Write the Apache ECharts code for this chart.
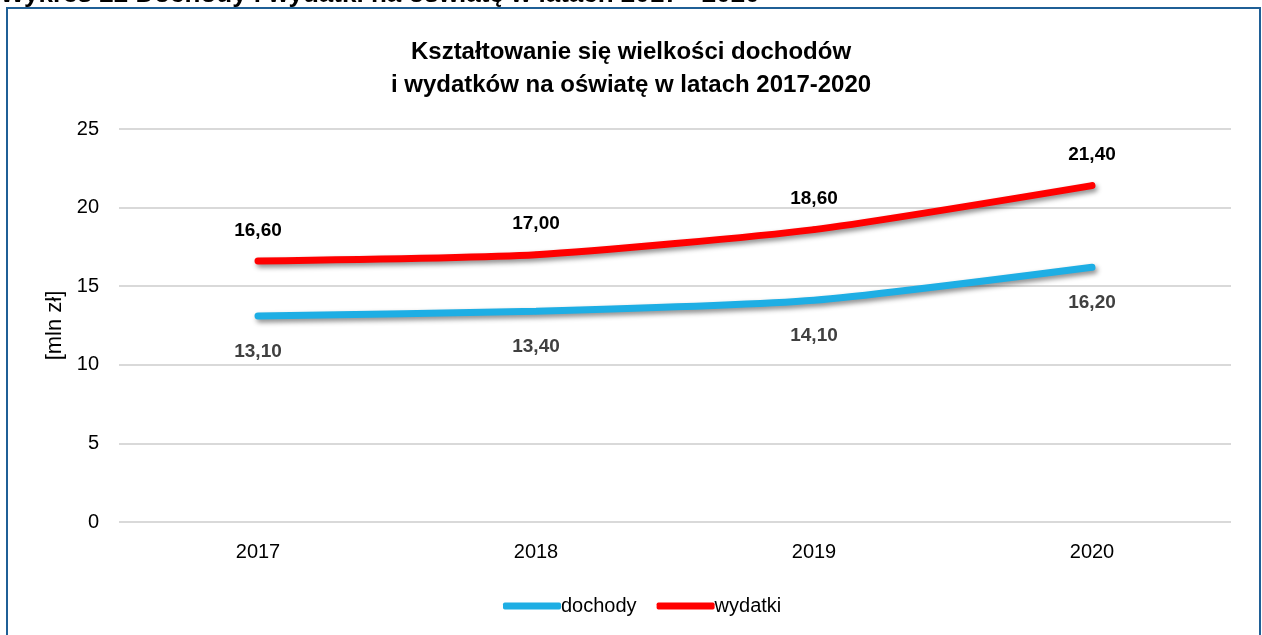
<!DOCTYPE html>
<html>
<head>
<meta charset="utf-8">
<script src="https://cdn.jsdelivr.net/npm/echarts@6/dist/echarts.min.js"></script>
<style>
  html, body { margin: 0; padding: 0; background: #fff; }
  #chart { width: 1262px; height: 635px; }
</style>
</head>
<body>
<div id="chart"></div>
<script>
// dane z wykresu
const years = ['2017', '2018', '2019', '2020']
const dochody = [13.1, 13.4, 14.1, 16.2]
const wydatki = [16.6, 17.0, 18.6, 21.4]
const yTicks = [0, 25, 5] // min, max, interval

const fmt = (p) => p.value.toFixed(2).replace('.', ',')
const font = '"Liberation Sans", Arial, sans-serif'

const lineShadow = {
  width: 7,
  cap: 'round',
  shadowColor: 'rgba(0,0,0,0.45)',
  shadowBlur: 5,
  shadowOffsetX: 2,
  shadowOffsetY: 3,
}

const myEchart = echarts.init(document.querySelector('#chart'))
myEchart.setOption({
  animation: false,
  textStyle: { fontFamily: font },
  graphic: [
    // ramka wykresu
    {
      type: 'rect',
      shape: { x: 7, y: 8, width: 1253, height: 640 },
      style: { fill: 'none', stroke: '#1f5f96', lineWidth: 2 },
      z: -1,
    },
    // ucięty nagłówek nad ramką
    {
      type: 'text',
      left: 0,
      top: -18,
      style: {
        text: 'Wykres 22 Dochody i wydatki na oświatę w latach 2017 - 2020',
        font: 'bold 26px ' + font,
        fill: '#000',
      },
    },
  ],
  title: {
    text: 'Kształtowanie się wielkości dochodów\ni wydatków na oświatę w latach 2017-2020',
    left: 'center',
    top: 31,
    textStyle: {
      fontSize: 24,
      fontWeight: 'bold',
      color: '#000',
      lineHeight: 33,
      fontFamily: font,
    },
  },
  grid: {
    left: 119,
    right: 31,
    top: 129,
    bottom: 113,
  },
  legend: {
    bottom: 14,
    left: 498,
    itemWidth: 58,
    itemHeight: 7,
    itemGap: 20,
    icon: 'roundRect',
    textStyle: { fontSize: 20, color: '#000', padding: [0, 0, 0, -5] },
    data: ['dochody', 'wydatki'],
  },
  xAxis: {
    type: 'category',
    data: years,
    axisLine: { show: false },
    axisTick: { show: false },
    axisLabel: { color: '#000', fontSize: 20, margin: 20 },
  },
  yAxis: {
    type: 'value',
    min: yTicks[0],
    max: yTicks[1],
    interval: yTicks[2],
    name: '[mln zł]',
    nameLocation: 'middle',
    nameGap: 46,
    nameTextStyle: { color: '#000', fontSize: 22 },
    axisLabel: { color: '#000', fontSize: 20, margin: 20 },
    splitLine: { lineStyle: { color: '#d9d9d9', width: 2 } },
  },
  series: [
    {
      name: 'dochody',
      type: 'line',
      data: dochody,
      smooth: 0.2,
      symbol: 'circle',
      symbolSize: 6,
      showSymbol: true,
      color: '#1eaee4',
      lineStyle: lineShadow,
      label: {
        show: true,
        position: 'bottom',
        distance: 23,
        formatter: fmt,
        fontSize: 19,
        fontWeight: 'bold',
        color: '#404040',
      },
    },
    {
      name: 'wydatki',
      type: 'line',
      data: wydatki,
      smooth: 0.2,
      symbol: 'circle',
      symbolSize: 6,
      showSymbol: true,
      color: '#ff0000',
      lineStyle: lineShadow,
      label: {
        show: true,
        position: 'top',
        distance: 18,
        formatter: fmt,
        fontSize: 19,
        fontWeight: 'bold',
        color: '#000',
      },
    },
  ],
})
</script>
</body>
</html>
